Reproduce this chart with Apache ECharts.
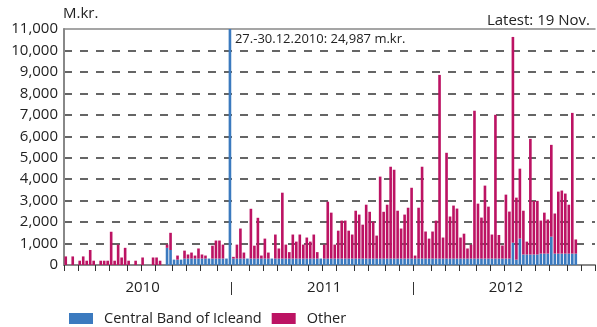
<!DOCTYPE html>
<html><head><meta charset="utf-8">
<script src="https://cdn.jsdelivr.net/npm/echarts@6/dist/echarts.min.js"></script>
<style>html,body{margin:0;padding:0;background:#fff}#c{width:597px;height:327px}</style>
</head><body><div id="c"></div>
<script>
// Weekly categories (Mondays), Feb 2010 - Dec 2012
const firstWeek = '2010-02-01';
const weekCount = 152;
const categories = [];
(function(){
  const d0 = new Date(firstWeek + 'T00:00:00Z');
  for (let i = 0; i < weekCount; i++) {
    const d = new Date(d0.getTime() + i * 7 * 86400000);
    categories.push(d.toISOString().slice(0, 10));
  }
})();

const seriesNames = ['Central Band of Icleand', 'Other'];

// M.kr. per week
const centralBank = [
  0,0,0,0,0,0,0,0,0,0,
  0,0,0,0,0,0,0,0,0,0,
  0,0,0,0,0,0,0,0,0,800,
  700,250,250,250,300,300,300,300,300,300,
  300,300,300,300,300,300,300,24837,300,300,
  300,300,300,300,300,300,300,300,300,300,
  300,300,300,300,300,300,300,300,300,300,
  300,300,300,300,300,300,300,300,300,300,
  300,300,300,300,300,300,300,300,300,300,
  300,300,300,300,300,300,300,300,300,300,
  300,300,300,300,300,300,300,300,300,300,
  300,300,300,300,300,300,300,300,300,300,
  300,300,300,300,300,300,300,300,1040,250,
  1230,490,490,490,490,490,530,530,530,1320,
  530,530,530,530,530,530,530
];
const other = [
  400,0,400,0,200,400,200,700,200,0,
  200,200,200,1550,200,950,350,800,200,0,
  200,0,350,0,0,350,350,200,0,150,
  800,0,190,0,370,190,280,140,470,190,
  140,0,600,840,840,650,0,150,80,650,
  1400,280,0,2320,600,1900,140,930,280,0,
  1120,470,3070,650,300,1120,790,1120,650,980,
  790,1120,300,0,650,2650,2140,650,1300,1770,
  1770,1300,1120,2230,2050,1580,2510,2180,1720,1070,
  3820,2180,2510,4280,4140,2230,1400,2050,2370,3300,
  140,2370,4280,1260,930,1260,1770,8560,980,4930,
  1960,2470,2330,980,1160,470,650,6890,2560,1910,
  3400,2420,1120,6700,1100,610,2980,2190,9590,2890,
  3260,2040,600,5390,2490,2500,1540,1910,1590,4280,
  1870,2890,2940,2800,2280,6560,660
];

const yTicks = [0,1000,2000,3000,4000,5000,6000,7000,8000,9000,10000,11000];
const annotationWeek = '2010-12-27';
const annotationDates = '27.-30.12.2010';
const annotationY = 10500;
const latestText = 'Latest: 19 Nov.';
const unitText = 'M.kr.';

const colors = ['#3b7abf', '#bc1363'];
const font = 'Open Sans';

// month-start ticks: first week whose Monday is in a new month
function isMonthStart(i) {
  if (i === 0) return true;
  return categories[i].slice(0, 7) !== categories[i - 1].slice(0, 7);
}
// year separator positions (index of first week of a new year)
const yearStarts = [];
for (let i = 1; i < categories.length; i++) {
  if (categories[i].slice(0, 4) !== categories[i - 1].slice(0, 4)) yearStarts.push(i);
}
// year label at first week of July
function isYearLabel(i) {
  return isMonthStart(i) && categories[i].slice(5, 7) === '07';
}

const annIdx = categories.indexOf(annotationWeek);
const annTotal = centralBank[annIdx] + other[annIdx];
const annText = annotationDates + ': ' + annTotal.toLocaleString('en-US') + ' m.kr.';

const chart = echarts.init(document.getElementById('c'), null, {renderer: 'canvas'});
chart.setOption({
  animation: false,
  textStyle: {fontFamily: font},
  title: {
    text: latestText, right: 2, top: 8,
    textStyle: {fontFamily: font, fontSize: 15, fontWeight: 'normal', color: '#222'}
  },
  legend: {
    left: 64, top: 306, itemWidth: 24, itemHeight: 11, itemGap: 10, icon: 'rect',
    textStyle: {fontFamily: font, fontSize: 14.5, color: '#222', padding: [0, 0, 0, 6]},
    data: seriesNames
  },
  grid: {left: 64, right: 2, top: 29, bottom: 62, containLabel: false},
  xAxis: [
    {
      type: 'category', data: categories, position: 'bottom', boundaryGap: true,
      axisLine: {lineStyle: {color: '#888', width: 2}},
      axisTick: {show: true, interval: (i) => isMonthStart(i), length: 6, lineStyle: {color: '#333', width: 1}},
      axisLabel: {interval: (i) => isYearLabel(i), formatter: (v) => v.slice(0, 4), margin: 15,
        fontFamily: font, fontSize: 15, color: '#222'},
      splitLine: {show: false}
    },
    {
      type: 'value', position: 'bottom', min: 0, max: categories.length, offset: 17,
      axisLine: {show: false},
      axisTick: {show: true, customValues: yearStarts, length: 13, lineStyle: {color: '#333', width: 1}},
      axisLabel: {show: false}, splitLine: {show: false}
    },
    {
      type: 'value', position: 'top', min: 0, max: categories.length,
      axisLine: {show: true, lineStyle: {color: '#888', width: 1.5}},
      axisTick: {show: false}, axisLabel: {show: false}, splitLine: {show: false}
    }
  ],
  yAxis: {
    type: 'value', min: yTicks[0], max: yTicks[yTicks.length - 1], interval: 1000,
    name: unitText, nameLocation: 'end', nameGap: 12,
    nameTextStyle: {align: 'left', verticalAlign: 'middle', fontFamily: font, fontSize: 15, color: '#222', padding: [0, 0, 0, -1]},
    axisLine: {show: true, lineStyle: {color: '#888', width: 2}},
    axisTick: {show: false},
    axisLabel: {formatter: (v) => v.toLocaleString('en-US'), margin: 6, fontFamily: font, fontSize: 15, color: '#222'},
    splitLine: {show: true, showMinLine: false, showMaxLine: false, lineStyle: {type: [8, 8], color: '#333', width: 1.5}}
  },
  series: [
    {
      name: seriesNames[0], type: 'bar', stack: 'total', xAxisIndex: 0, data: centralBank,
      barCategoryGap: '25%', itemStyle: {color: colors[0]},
      markPoint: {
        symbol: 'circle', symbolSize: 0, silent: true,
        itemStyle: {color: 'transparent'},
        label: {show: true, position: 'right', distance: 5, formatter: annText,
          fontFamily: font, fontSize: 13, color: '#222'},
        data: [{coord: [annIdx, annotationY]}]
      }
    },
    {
      name: seriesNames[1], type: 'bar', stack: 'total', xAxisIndex: 0, data: other,
      barCategoryGap: '25%', itemStyle: {color: colors[1]}
    }
  ]
});
</script>
</body></html>
